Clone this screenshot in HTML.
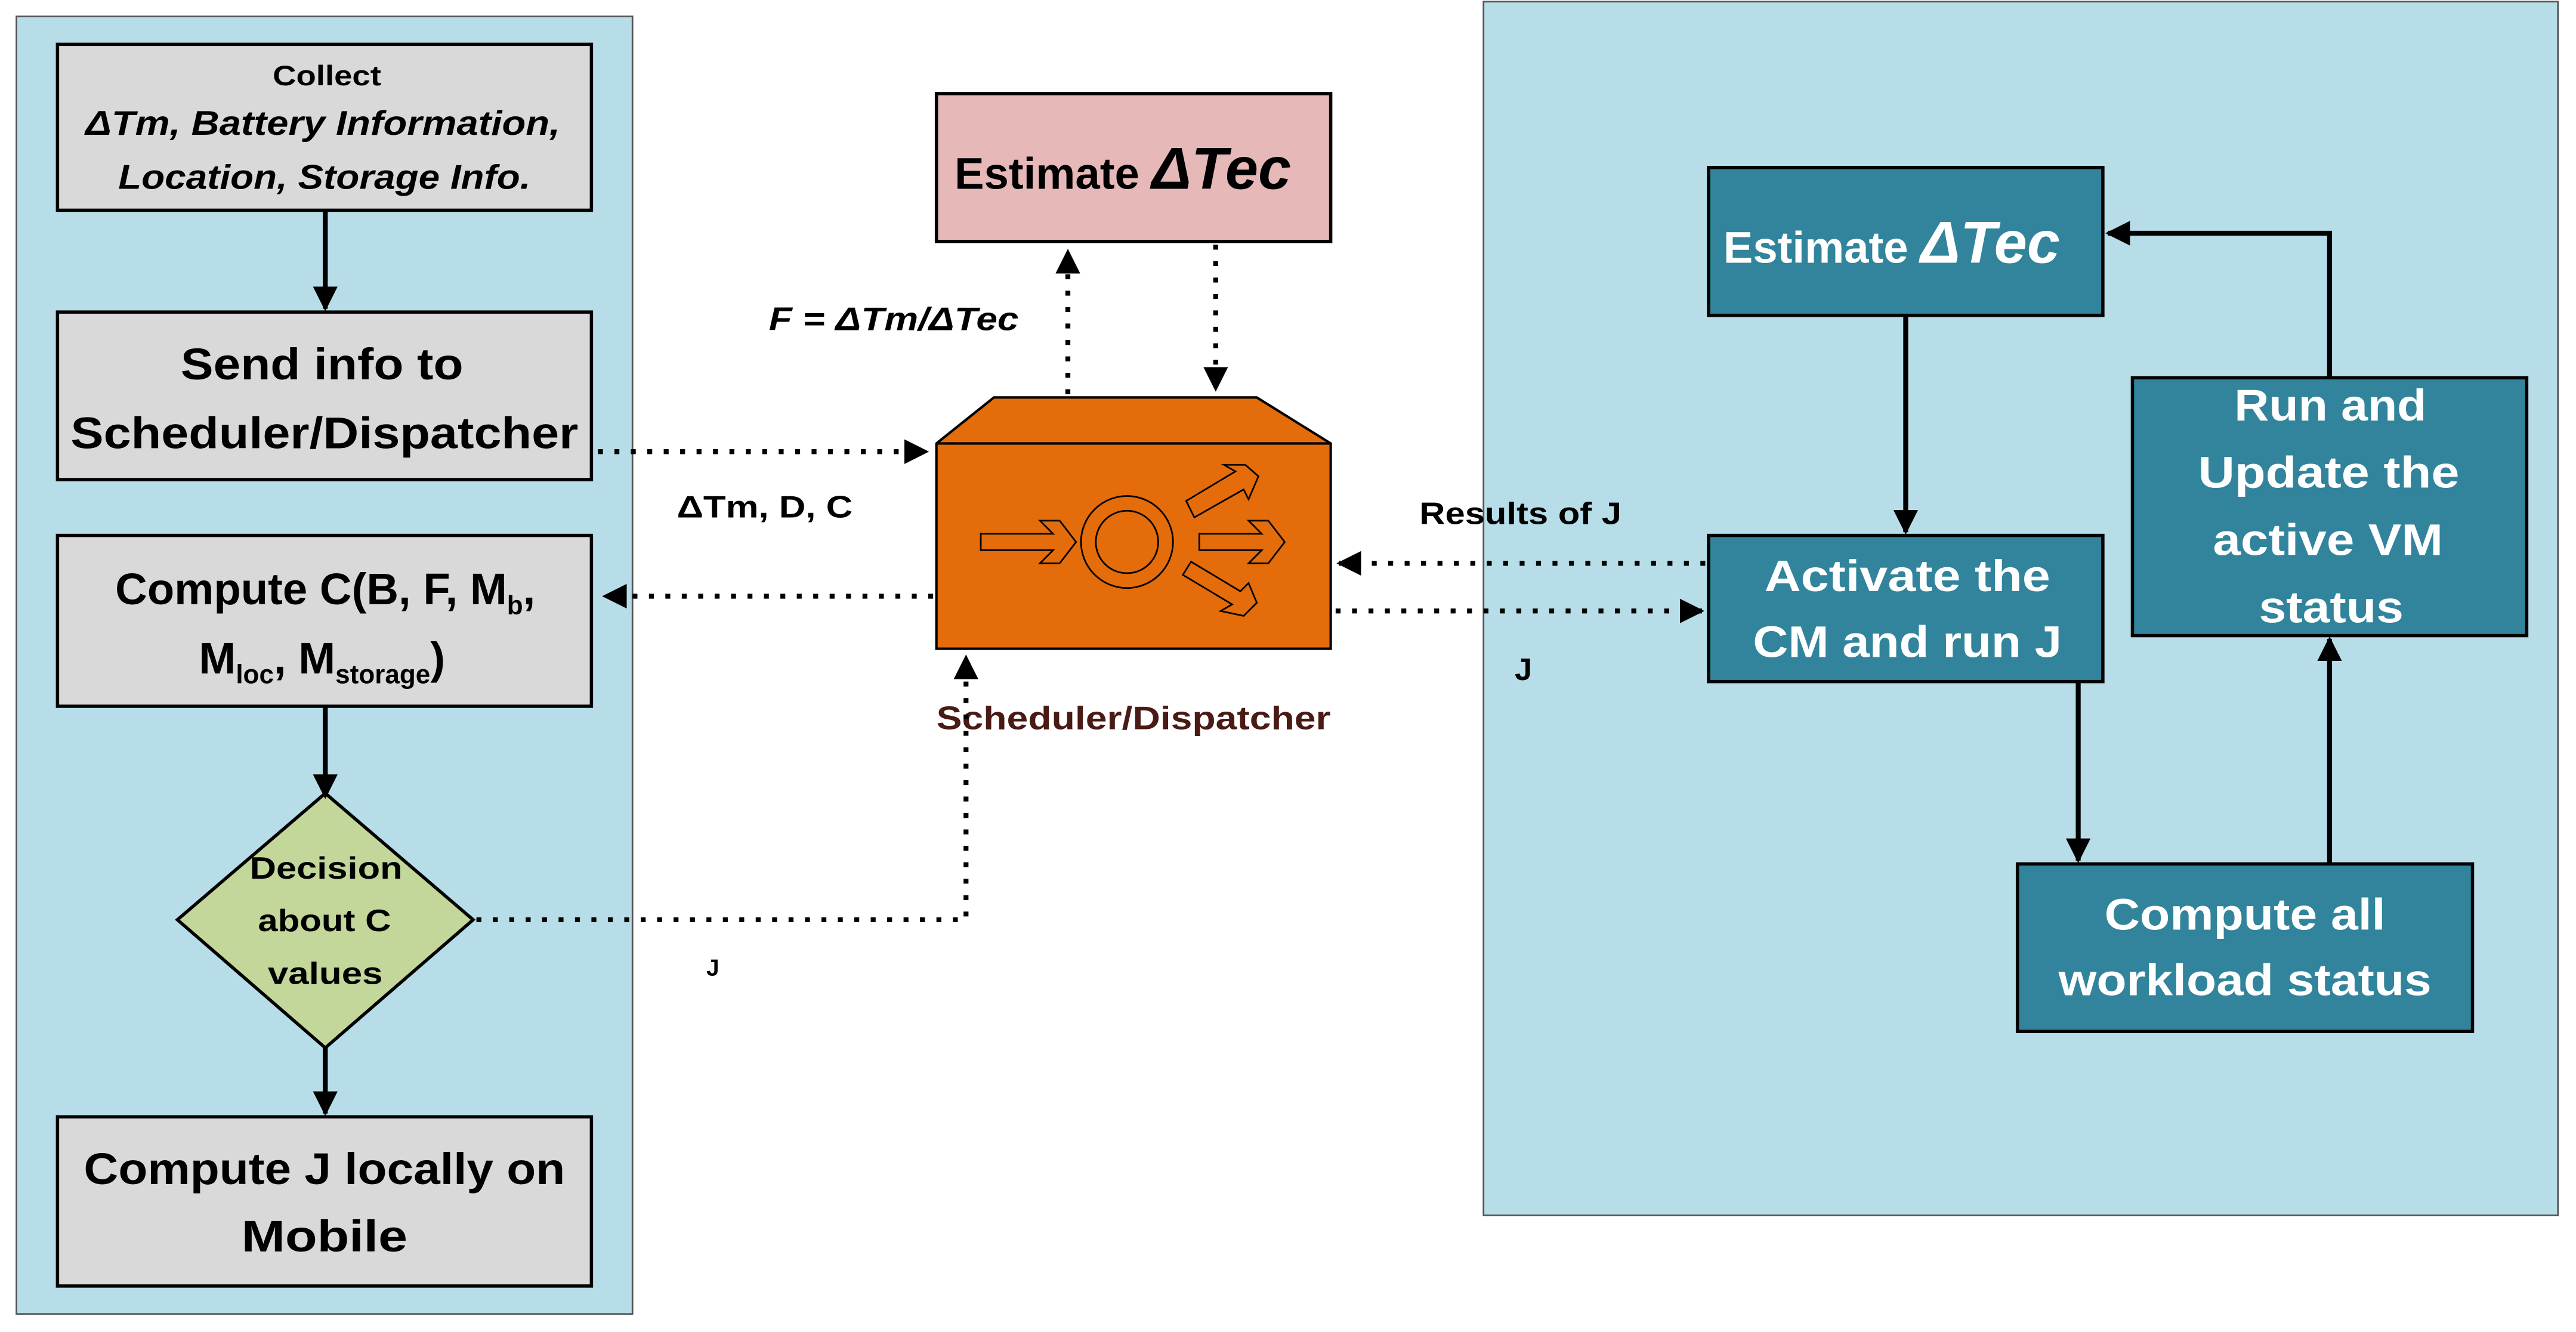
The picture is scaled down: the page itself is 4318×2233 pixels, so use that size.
<!DOCTYPE html>
<html><head><meta charset="utf-8"><style>
html,body{margin:0;padding:0;background:#fff;}
svg{display:block;}
text{font-family:"Liberation Sans",sans-serif;font-weight:bold;}
</style></head><body>
<svg width="4318" height="2233" viewBox="0 0 1568 811" preserveAspectRatio="none" xmlns="http://www.w3.org/2000/svg">
<defs>
<marker id="a" viewBox="0 0 10 10" refX="9" refY="5" markerWidth="5" markerHeight="5" orient="auto"><path d="M0,0L10,5L0,10z" fill="#000"/></marker>
</defs>
<rect x="10" y="10" width="375" height="790" fill="#b7dde8" stroke="#555" stroke-width="1"/>
<rect x="903" y="1" width="654" height="739" fill="#b7dde8" stroke="#555" stroke-width="1"/>

<g stroke="#000" stroke-width="2" fill="#d9d9d9">
<rect x="35" y="27" width="325" height="101"/>
<rect x="35" y="190" width="325" height="102"/>
<rect x="35" y="326" width="325" height="104"/>
<rect x="35" y="680" width="325" height="103"/>
</g>
<polygon points="198,483 288,560 198,638 108,560" fill="#c4d79b" stroke="#000" stroke-width="2"/>

<text x="166" y="52" font-size="17" textLength="66" lengthAdjust="spacingAndGlyphs">Collect</text>
<text x="52" y="82" font-size="21" font-style="italic" textLength="289" lengthAdjust="spacingAndGlyphs">ΔTm, Battery Information,</text>
<text x="72" y="115" font-size="21" font-style="italic" textLength="251" lengthAdjust="spacingAndGlyphs">Location, Storage Info.</text>
<text x="110" y="231" font-size="27" textLength="172" lengthAdjust="spacingAndGlyphs">Send info to</text>
<text x="43" y="273" font-size="27" textLength="309" lengthAdjust="spacingAndGlyphs">Scheduler/Dispatcher</text>
<text x="198" y="368" font-size="27" text-anchor="middle">Compute C(B, F, M<tspan font-size="16" dy="6">b</tspan><tspan dy="-6">,</tspan></text>
<text x="196" y="410" font-size="27" text-anchor="middle">M<tspan font-size="16" dy="6">loc</tspan><tspan dy="-6">, M</tspan><tspan font-size="16" dy="6">storage</tspan><tspan dy="-6">)</tspan></text>
<text x="152" y="535" font-size="19" textLength="93" lengthAdjust="spacingAndGlyphs">Decision</text>
<text x="157" y="567" font-size="19" textLength="81" lengthAdjust="spacingAndGlyphs">about C</text>
<text x="163" y="599" font-size="19" textLength="70" lengthAdjust="spacingAndGlyphs">values</text>
<text x="51" y="721" font-size="27" textLength="293" lengthAdjust="spacingAndGlyphs">Compute J locally on</text>
<text x="147" y="762" font-size="27" textLength="101" lengthAdjust="spacingAndGlyphs">Mobile</text>

<g stroke="#000" stroke-width="3" marker-end="url(#a)">
<line x1="198" y1="128" x2="198" y2="188"/>
<line x1="198" y1="430" x2="198" y2="485"/>
<line x1="198" y1="638" x2="198" y2="678"/>
</g>

<rect x="570" y="57" width="240" height="90" fill="#e6b9b8" stroke="#000" stroke-width="2"/>
<text x="581" y="115" font-size="27">Estimate <tspan font-size="36" font-style="italic">ΔTec</tspan></text>

<polygon points="570,270 605,242 765,242 810,270 810,395 570,395" fill="#e46c0a" stroke="#000" stroke-width="1.5"/>
<line x1="570" y1="270" x2="810" y2="270" stroke="#000" stroke-width="1.5"/>
<g fill="none" stroke="#000" stroke-width="1">
<path d="M597,325 L641,325 L633,317 L645,317 L655,330 L645,343 L633,343 L641,335 L597,335 Z"/>
<circle cx="686" cy="330" r="28"/><circle cx="686" cy="330" r="19"/>
<path d="M730,325 L768,325 L760,317 L772,317 L782,330 L772,343 L760,343 L768,335 L730,335 Z"/>
<path d="M722,305 L752,287 L745,283 L758,283 L766,290 L760,304 L757,298 L727,315 Z"/>
<path d="M720,350 L750,368 L743,372 L757,375 L765,367 L760,355 L755,360 L725,342 Z"/>
</g>
<text x="570" y="444" font-size="20" fill="#4a1a14" textLength="240" lengthAdjust="spacingAndGlyphs">Scheduler/Dispatcher</text>

<g stroke="#000" stroke-width="3" stroke-dasharray="3,7" fill="none" marker-end="url(#a)">
<line x1="364" y1="275" x2="564" y2="275"/>
<line x1="568" y1="363" x2="368" y2="363"/>
<polyline points="290,560 588,560 588,400"/>
<line x1="650" y1="240" x2="650" y2="153"/>
<line x1="740" y1="149" x2="740" y2="237"/>
<line x1="1038" y1="343" x2="815" y2="343"/>
<line x1="813" y1="372" x2="1036" y2="372"/>
</g>
<text x="468" y="201" font-size="20" font-style="italic" textLength="152" lengthAdjust="spacingAndGlyphs">F = ΔTm/ΔTec</text>
<text x="412" y="315" font-size="19" textLength="107" lengthAdjust="spacingAndGlyphs">ΔTm, D, C</text>
<text x="864" y="319" font-size="19" textLength="123" lengthAdjust="spacingAndGlyphs">Results of J</text>
<text x="922" y="414" font-size="19">J</text>
<text x="430" y="594" font-size="14">J</text>

<g fill="#31849b" stroke="#000" stroke-width="2">
<rect x="1040" y="102" width="240" height="90"/>
<rect x="1298" y="230" width="240" height="157"/>
<rect x="1040" y="326" width="240" height="89"/>
<rect x="1228" y="526" width="277" height="102"/>
</g>
<g fill="#fff" font-size="27">
<text x="1049" y="160">Estimate <tspan font-size="36" font-style="italic">ΔTec</tspan></text>
<text x="1360" y="256" textLength="117" lengthAdjust="spacingAndGlyphs">Run and</text>
<text x="1338" y="297" textLength="159" lengthAdjust="spacingAndGlyphs">Update the</text>
<text x="1347" y="338" textLength="140" lengthAdjust="spacingAndGlyphs">active VM</text>
<text x="1375" y="379" textLength="88" lengthAdjust="spacingAndGlyphs">status</text>
<text x="1074" y="360" textLength="174" lengthAdjust="spacingAndGlyphs">Activate the</text>
<text x="1067" y="400" textLength="188" lengthAdjust="spacingAndGlyphs">CM and run J</text>
<text x="1281" y="566" textLength="171" lengthAdjust="spacingAndGlyphs">Compute all</text>
<text x="1253" y="606" textLength="227" lengthAdjust="spacingAndGlyphs">workload status</text>
</g>
<g stroke="#000" stroke-width="3" fill="none" marker-end="url(#a)">
<line x1="1160" y1="192" x2="1160" y2="324"/>
<line x1="1265" y1="415" x2="1265" y2="524"/>
<line x1="1418" y1="526" x2="1418" y2="389"/>
<polyline points="1418,230 1418,142 1283,142"/>
</g>
</svg>
</body></html>
